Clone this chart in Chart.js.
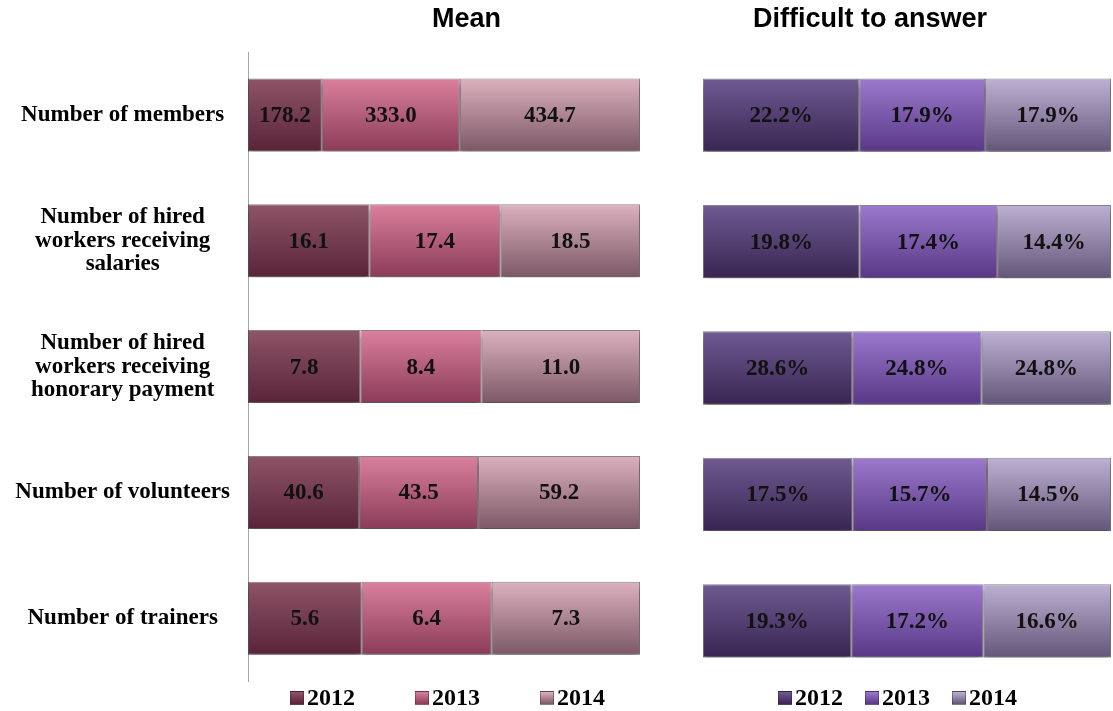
<!DOCTYPE html>
<html>
<head>
<meta charset="utf-8">
<script src="https://cdn.jsdelivr.net/npm/chart.js@4.4.1/dist/chart.umd.min.js"></script>
<style>
  body { margin: 0; background: #fff; width: 1113px; height: 711px; position: relative; overflow: hidden; }
  .box { position: absolute; top: 0; height: 711px; }
  .title { position: absolute; top: 3px; font: bold 27px "Liberation Sans", Arial, sans-serif; color: #000; }
  .legend { position: absolute; top: 685px; font: bold 24px/24px "Liberation Serif", serif; display: flex; color: #000; }
  .legend span { display: flex; align-items: center; }
  .legend i { display: inline-block; width: 14px; height: 14px; margin-right: 3px; margin-top: 2px; box-sizing: border-box; border: 1px solid rgba(40,20,40,0.35); }
</style>
</head>
<body>
<div class="box" style="left:0;width:650px"><canvas id="meanChart"></canvas></div>
<div class="box" style="left:688px;width:425px"><canvas id="dtaChart"></canvas></div>
<div class="title" style="left:432px">Mean</div>
<div class="title" style="left:753px">Difficult to answer</div>
<div class="legend" id="meanLegend" style="left:290px"></div>
<div class="legend" id="dtaLegend" style="left:778px"></div>
<script>
// Row labels (multi-line as in the original)
const categories = [
    'Number of members',
    ['Number of hired', 'workers receiving', 'salaries'],
    ['Number of hired', 'workers receiving', 'honorary payment'],
    'Number of volunteers',
    'Number of trainers'
];
const years = ['2012', '2013', '2014'];

// Mean values per year
const mean2012 = [178.2, 16.1, 7.8, 40.6, 5.6];
const mean2013 = [333.0, 17.4, 8.4, 43.5, 6.4];
const mean2014 = [434.7, 18.5, 11.0, 59.2, 7.3];

// "Difficult to answer" shares, %
const dta2012 = [22.2, 19.8, 28.6, 17.5, 19.3];
const dta2013 = [17.9, 17.4, 24.8, 15.7, 17.2];
const dta2014 = [17.9, 14.4, 24.8, 14.5, 16.6];

const meanColors = [['#8e5468', '#5a2438'], ['#db809d', '#8a3c58'], ['#dcb1be', '#7c5866']];
const dtaColors = [['#6f5a92', '#392552'], ['#9b79cd', '#583886'], ['#bdb1d3', '#645679']];

const BAR_PCT = 0.58;

// each row is drawn as a 100% stacked bar
const toShares = (series) => series.map((s) => s.map((v, i) => {
    const total = series.reduce((sum, arr) => sum + arr[i], 0);
    return v / total * 100;
}));

const gradientFill = (pair) => (ctx) => {
    const chart = ctx.chart;
    const y = chart.scales && chart.scales.y;
    if (!y || ctx.dataIndex === undefined) return pair[0];
    const center = y.getPixelForValue(ctx.dataIndex);
    const half = (y.getPixelForValue(1) - y.getPixelForValue(0)) * BAR_PCT / 2;
    if (!isFinite(center) || !isFinite(half) || half === 0) return pair[0];
    const g = chart.ctx.createLinearGradient(0, center - half, 0, center + half);
    g.addColorStop(0, pair[0]);
    g.addColorStop(1, pair[1]);
    return g;
};

// labels in the middle of each segment
const segmentLabels = {
    id: 'segmentLabels',
    afterDatasetsDraw(chart, args, opts) {
        const ctx = chart.ctx;
        ctx.save();
        ctx.font = 'bold 23px "Liberation Serif", serif';
        ctx.fillStyle = '#111';
        ctx.textAlign = 'center';
        ctx.textBaseline = 'middle';
        chart.data.datasets.forEach((ds, di) => {
            chart.getDatasetMeta(di).data.forEach((bar, i) => {
                const x = (bar.x + bar.base) / 2;
                ctx.fillText(ds.raw[i].toFixed(1) + opts.suffix, x, bar.y + 1);
            });
        });
        ctx.restore();
    }
};

// soft shadow under the bars
const barShadow = {
    id: 'barShadow',
    beforeDatasetsDraw(chart) {
        const ctx = chart.ctx;
        ctx.save();
        ctx.shadowColor = 'rgba(0,0,0,0.4)';
        ctx.shadowBlur = 6;
        ctx.shadowOffsetY = 6;
    },
    afterDatasetsDraw(chart) {
        chart.ctx.restore();
    }
};

const makeChart = (id, series, colors, suffix, showAxis, padding) => {
    const shares = toShares(series);
    return new Chart(document.getElementById(id), {
        type: 'bar',
        data: {
            labels: categories,
            datasets: years.map((yr, k) => ({
                label: yr,
                data: shares[k],
                raw: series[k],
                backgroundColor: gradientFill(colors[k]),
                borderColor: 'rgba(50,25,45,0.55)',
                borderWidth: 1,
                borderSkipped: false,
                categoryPercentage: 1,
                barPercentage: BAR_PCT
            }))
        },
        options: {
            indexAxis: 'y',
            responsive: true,
            maintainAspectRatio: false,
            animation: false,
            layout: { padding: padding },
            plugins: {
                legend: { display: false },
                tooltip: { enabled: false },
                segmentLabels: { suffix: suffix }
            },
            scales: {
                x: { stacked: true, min: 0, max: 100, display: false },
                y: {
                    stacked: true,
                    display: showAxis,
                    grid: { display: false, drawTicks: false },
                    border: { display: showAxis, color: '#a6a6a6', width: 1 },
                    ticks: {
                        color: '#000',
                        padding: 18,
                        crossAlign: 'center',
                        font: { family: '"Liberation Serif", serif', size: 23, weight: 'bold', lineHeight: 1.03 }
                    },
                    afterFit: (scale) => { if (showAxis) scale.width = 248; }
                }
            }
        },
        plugins: [barShadow, segmentLabels]
    });
};

makeChart('meanChart', [mean2012, mean2013, mean2014], meanColors, '',
    true, { top: 52, bottom: 27, left: 0, right: 10 });
makeChart('dtaChart', [dta2012, dta2013, dta2014], dtaColors, '%',
    false, { top: 52, bottom: 27, left: 15, right: 2 });

// legends
const buildLegend = (el, colors, gap) => {
    years.forEach((yr, k) => {
        const item = document.createElement('span');
        if (k < years.length - 1) item.style.marginRight = gap + 'px';
        item.innerHTML = '<i style="background:linear-gradient(' + colors[k][0] + ',' + colors[k][1] + ')"></i>' + yr;
        el.appendChild(item);
    });
};
buildLegend(document.getElementById('meanLegend'), meanColors, 60);
buildLegend(document.getElementById('dtaLegend'), dtaColors, 22);
</script>
</body>
</html>
